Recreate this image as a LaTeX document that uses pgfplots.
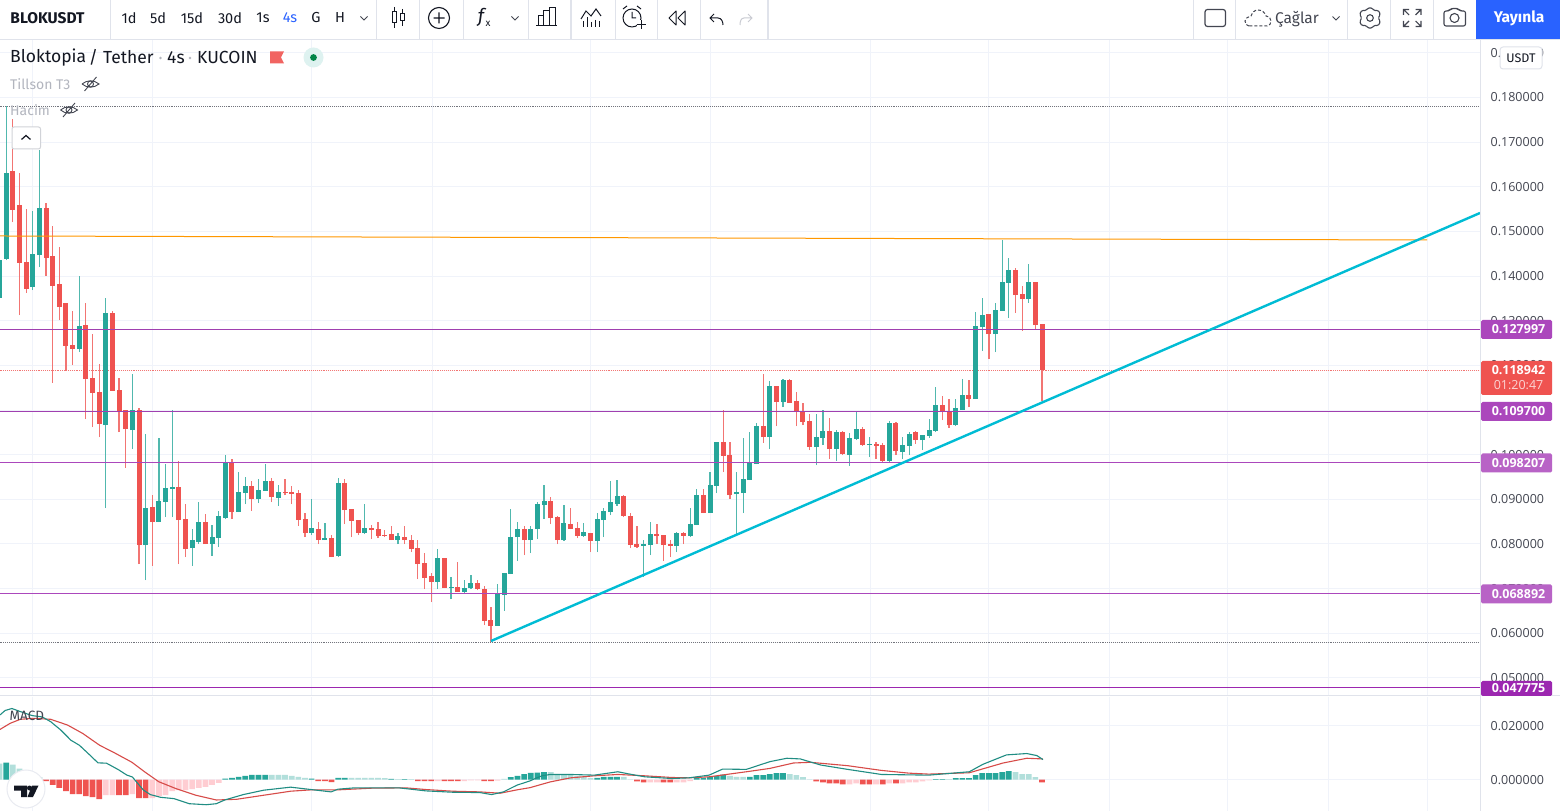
\documentclass[border=0pt]{standalone}
\usepackage{pgfplots}
\pgfplotsset{compat=1.18}
\usepackage{pgfplotstable}
\usepackage{fontspec}
\setmainfont{Fira Sans}
\newfontfamily\numf{Open Sans}
\definecolor{up}{HTML}{26A69A}
\definecolor{dn}{HTML}{EF5350}
\definecolor{upl}{HTML}{B2DFDB}
\definecolor{dnl}{HTML}{FFCDD2}
\definecolor{gridc}{HTML}{F0F3FA}
\definecolor{sep}{HTML}{E0E3EB}
\definecolor{ink}{HTML}{131722}
\definecolor{ui}{HTML}{434651}
\definecolor{gray1}{HTML}{B2B5BE}
\definecolor{pur}{HTML}{AB47BC}
\definecolor{purd}{HTML}{9C27B0}
\definecolor{purm}{HTML}{A040B0}
\definecolor{cyanl}{HTML}{00BCD4}
\definecolor{oran}{HTML}{FF9800}
\definecolor{blue1}{HTML}{2962FF}

\pgfplotstableread{
i o h l c
-1 0.13510 0.14361 0.13510 0.14361
0 0.14383 0.17811 0.14361 0.16310
4 0.13756 0.15459 0.13689 0.14495
5 0.14473 0.16825 0.14204 0.15526
11 0.12367 0.14003 0.12300 0.12883
15 0.10665 0.13510 0.08806 0.13174
19 0.10553 0.11807 0.10127 0.11001
21 0.07977 0.10463 0.07193 0.08806
23 0.08492 0.10374 0.08492 0.08963
24 0.08940 0.09791 0.08604 0.09254
25 0.09231 0.11001 0.08604 0.09276
28 0.07910 0.08335 0.07507 0.08089
29 0.08044 0.08940 0.07999 0.08492
31 0.07999 0.08425 0.07731 0.08156
32 0.08134 0.08739 0.07932 0.08627
33 0.08582 0.09993 0.08559 0.09814
35 0.08716 0.09612 0.08716 0.09164
36 0.09142 0.09500 0.08895 0.09299
38 0.09007 0.09456 0.08918 0.09209
39 0.09187 0.09791 0.09187 0.09411
41 0.09030 0.09321 0.08851 0.09164
46 0.08246 0.09007 0.08201 0.08358
48 0.08089 0.08470 0.08089 0.08134
50 0.07731 0.09478 0.07708 0.09366
54 0.08246 0.08895 0.08223 0.08358
59 0.08089 0.08246 0.07999 0.08179
65 0.07148 0.07887 0.06991 0.07686
67 0.07014 0.07260 0.06767 0.07036
69 0.06924 0.07193 0.06902 0.07014
70 0.07014 0.07305 0.06991 0.07126
74 0.06163 0.07103 0.06163 0.06902
75 0.06857 0.07350 0.06499 0.07350
76 0.07327 0.08783 0.07327 0.08156
77 0.08156 0.08492 0.07619 0.08335
79 0.08089 0.08403 0.07798 0.08335
80 0.08335 0.08940 0.08111 0.08895
81 0.08873 0.09321 0.08559 0.08963
84 0.08089 0.08873 0.08067 0.08470
87 0.08179 0.08470 0.08156 0.08268
89 0.08067 0.08694 0.07820 0.08559
90 0.08537 0.08806 0.08156 0.08739
91 0.08716 0.09411 0.08649 0.08940
92 0.08895 0.09433 0.08851 0.09075
96 0.07955 0.08089 0.07260 0.07999
97 0.07977 0.08492 0.07753 0.08223
101 0.07955 0.08268 0.07820 0.08246
103 0.08179 0.08806 0.08156 0.08447
104 0.08425 0.09231 0.08425 0.09097
106 0.08694 0.09612 0.08694 0.09321
107 0.09299 0.10284 0.09142 0.10284
110 0.09119 0.09612 0.08179 0.09164
111 0.09142 0.10374 0.08694 0.09456
112 0.09433 0.10508 0.09433 0.09814
113 0.09791 0.10710 0.09791 0.10642
115 0.10396 0.11651 0.10127 0.11539
117 0.11180 0.11695 0.11068 0.11673
122 0.10172 0.10911 0.09769 0.10396
123 0.10374 0.11001 0.10217 0.10531
125 0.10127 0.10553 0.09859 0.10508
127 0.09993 0.10486 0.09747 0.10374
128 0.10351 0.10956 0.10329 0.10575
130 0.10217 0.10396 0.09948 0.10240
133 0.09859 0.10755 0.09814 0.10710
135 0.10060 0.10396 0.09903 0.10217
136 0.10195 0.10508 0.09993 0.10463
138 0.10329 0.10441 0.10105 0.10441
139 0.10419 0.10799 0.10374 0.10553
140 0.10531 0.11516 0.10508 0.11113
143 0.10665 0.11247 0.10642 0.11046
144 0.11001 0.11695 0.11001 0.11337
146 0.11247 0.13196 0.11247 0.12883
147 0.12860 0.13510 0.12323 0.13129
149 0.12703 0.13398 0.12300 0.13241
150 0.13219 0.14809 0.13219 0.13868
151 0.13846 0.14406 0.13062 0.14137
154 0.13487 0.14271 0.13398 0.13868
}\upcandles

\pgfplotstableread{
i o h l c
1 0.16355 0.17519 0.15212 0.15481
2 0.15593 0.16310 0.13129 0.14294
3 0.14316 0.15503 0.13622 0.13711
6 0.15526 0.15638 0.14003 0.14406
7 0.14451 0.15123 0.11606 0.13779
8 0.13823 0.14652 0.13017 0.13308
9 0.13398 0.13398 0.11875 0.12435
10 0.12457 0.13219 0.12009 0.12367
12 0.12905 0.13398 0.10799 0.11695
13 0.11718 0.12703 0.10620 0.11382
14 0.11404 0.12031 0.10396 0.10687
16 0.13174 0.13219 0.11427 0.11427
17 0.11449 0.11718 0.10508 0.10956
18 0.11001 0.11001 0.09702 0.10575
20 0.11001 0.11046 0.07551 0.07977
22 0.08828 0.09097 0.07507 0.08492
26 0.09276 0.09859 0.07551 0.08537
27 0.08559 0.08895 0.07708 0.07887
30 0.08492 0.08671 0.07999 0.07999
34 0.09814 0.09903 0.08559 0.08716
37 0.09299 0.09411 0.08739 0.09007
40 0.09411 0.09478 0.08940 0.09052
42 0.09164 0.09456 0.09097 0.09142
43 0.09164 0.09299 0.08895 0.09119
44 0.09142 0.09209 0.08403 0.08537
45 0.08559 0.08694 0.08156 0.08246
47 0.08335 0.08492 0.07999 0.08089
49 0.08134 0.08201 0.07708 0.07708
51 0.09366 0.09456 0.08447 0.08761
52 0.08783 0.08783 0.08156 0.08515
53 0.08537 0.08537 0.08201 0.08246
55 0.08358 0.08425 0.08111 0.08313
56 0.08335 0.08492 0.08134 0.08179
57 0.08201 0.08313 0.08156 0.08179
58 0.08223 0.08403 0.08089 0.08089
60 0.08156 0.08403 0.07999 0.08089
61 0.08089 0.08201 0.07820 0.07887
62 0.07910 0.08089 0.07215 0.07551
63 0.07574 0.07798 0.06991 0.07238
64 0.07283 0.07350 0.06700 0.07148
66 0.07686 0.07686 0.07014 0.07014
68 0.07036 0.07596 0.06924 0.06924
71 0.07126 0.07193 0.06969 0.06991
72 0.06991 0.07059 0.06185 0.06275
73 0.06297 0.06588 0.05804 0.06163
78 0.08335 0.08403 0.07753 0.08089
82 0.08963 0.09052 0.08447 0.08582
83 0.08604 0.08627 0.07999 0.08089
85 0.08447 0.08806 0.08335 0.08335
86 0.08358 0.08492 0.08134 0.08179
88 0.08246 0.08246 0.07820 0.08067
93 0.09075 0.09097 0.08604 0.08627
94 0.08627 0.08694 0.07910 0.07977
95 0.07999 0.08403 0.07910 0.07932
98 0.08223 0.08447 0.07999 0.08179
99 0.08201 0.08201 0.07619 0.07977
100 0.07999 0.08089 0.07708 0.07955
102 0.08246 0.08268 0.07999 0.08179
105 0.09097 0.09231 0.08694 0.08694
108 0.10284 0.11001 0.09612 0.09971
109 0.09993 0.10284 0.09007 0.09097
114 0.10642 0.11807 0.10262 0.10396
116 0.11539 0.11539 0.10642 0.11180
118 0.11673 0.11695 0.11158 0.11158
119 0.11203 0.11404 0.10642 0.10956
120 0.10956 0.11158 0.10665 0.10732
121 0.10755 0.10911 0.10105 0.10172
124 0.10531 0.10822 0.09903 0.10127
126 0.10508 0.10531 0.09993 0.10015
129 0.10575 0.10620 0.10195 0.10217
131 0.10240 0.10284 0.09903 0.10195
132 0.10217 0.10262 0.09814 0.09859
134 0.10710 0.10732 0.09993 0.10083
137 0.10508 0.10531 0.10240 0.10329
141 0.11113 0.11315 0.10777 0.10956
142 0.10979 0.11247 0.10598 0.10665
145 0.11337 0.11673 0.11068 0.11247
148 0.13151 0.13151 0.12143 0.12703
152 0.14137 0.14182 0.13174 0.13577
153 0.13599 0.13779 0.12771 0.13487
155 0.13868 0.13868 0.12815 0.12905
156 0.12927 0.12927 0.11203 0.11894
}\dncandles

% MACD histogram, four shades
\pgfplotstableread{
i v
0 0.00630
33 0.00037
34 0.00063
35 0.00100
36 0.00137
37 0.00174
38 0.00174
39 0.00174
46 0.00037
50 0.00063
51 0.00063
58 0.00026
60 0.00019
76 0.00089
77 0.00137
78 0.00200
79 0.00252
80 0.00259
81 0.00274
89 0.00063
90 0.00100
91 0.00100
92 0.00100
104 0.00063
105 0.00063
106 0.00100
107 0.00126
108 0.00185
112 0.00100
113 0.00163
114 0.00163
115 0.00200
116 0.00237
117 0.00237
140 0.00019
141 0.00019
143 0.00052
144 0.00052
145 0.00052
146 0.00163
147 0.00237
148 0.00237
149 0.00237
150 0.00274
151 0.00311
}\hup
\pgfplotstableread{
i v
-1 0.00593
1 0.00556
2 0.00407
3 0.00250
4 0.00180
5 0.00089
40 0.00174
41 0.00174
42 0.00174
43 0.00137
44 0.00100
45 0.00063
52 0.00063
53 0.00063
54 0.00063
55 0.00063
56 0.00063
57 0.00055
59 0.00019
61 0.00019
75 0.00026
82 0.00274
83 0.00163
84 0.00163
85 0.00163
86 0.00137
87 0.00100
88 0.00052
93 0.00100
94 0.00011
109 0.00137
110 0.00100
111 0.00100
118 0.00200
119 0.00163
120 0.00089
121 0.00011
142 0.00019
152 0.00274
153 0.00200
154 0.00200
155 0.00089
}\hupl
\pgfplotstableread{
i v
6 -0.00052
7 -0.00200
8 -0.00311
9 -0.00426
10 -0.00537
11 -0.00537
12 -0.00615
13 -0.00652
14 -0.00726
17 -0.00574
18 -0.00574
20 -0.00689
21 -0.00689
47 -0.00052
48 -0.00052
49 -0.00089
62 -0.00052
63 -0.00052
64 -0.00052
66 -0.00052
67 -0.00052
68 -0.00052
72 -0.00052
73 -0.00052
95 -0.00063
96 -0.00100
99 -0.00100
100 -0.00100
122 -0.00063
123 -0.00100
124 -0.00137
125 -0.00137
126 -0.00174
129 -0.00174
130 -0.00174
132 -0.00174
134 -0.00137
156 -0.00100
}\hdn
\pgfplotstableread{
i v
15 -0.00574
16 -0.00574
19 -0.00537
22 -0.00689
23 -0.00615
24 -0.00574
25 -0.00426
26 -0.00389
27 -0.00389
28 -0.00352
29 -0.00311
30 -0.00274
31 -0.00200
32 -0.00126
65 -0.00052
69 -0.00052
70 -0.00030
71 -0.00030
74 -0.00040
97 -0.00100
98 -0.00100
101 -0.00100
102 -0.00100
103 -0.00052
127 -0.00174
128 -0.00137
131 -0.00174
133 -0.00137
135 -0.00137
136 -0.00100
137 -0.00100
138 -0.00063
139 -0.00030
}\hdnl

\newcommand{\fs}[1]{\fontsize{#1}{#1}\selectfont}
\newcommand{\ui}[4][ui]{\node[text=#1,anchor=center,inner sep=0pt] at (#2,811-#3) {#4};}

\begin{document}
\begin{tikzpicture}[x=1pt,y=1pt]
\fill[white] (0,0) rectangle (1560,811);
\clip (0,0) rectangle (1560,811);

% ---------- price pane ----------
\begin{axis}[at={(0pt,115pt)},anchor=south west,scale only axis,width=1480pt,height=656pt,
  xmin=-0.934,xmax=221.96,ymin=0.04595,ymax=0.19289,scaled ticks=false,
  axis line style={draw=none},major tick length=0pt,
  xtick={3.89,21.96,46.05,64.13,88.07,106,130.1,148,166.1,184,199.1,214},xticklabels={},
  ytick={0.05,0.06,0.07,0.08,0.09,0.10,0.11,0.12,0.13,0.14,0.15,0.16,0.17,0.18,0.19},
  yticklabels={0.050000,0.060000,0.070000,0.080000,0.090000,0.100000,0.110000,0.120000,0.130000,0.140000,0.150000,0.160000,0.170000,0.180000,0.190000},
  yticklabel pos=right,
  y tick label style={font=\numf\fs{12.5},text=ui,anchor=west,xshift=10.5pt,inner sep=0pt},
  grid=major,grid style={gridc,line width=1pt},clip=true]
\addplot[dn!80,densely dotted,line width=0.9pt,forget plot] coordinates {(-1,0.118942)(222,0.118942)};
\addplot[draw=none,mark=none,forget plot,error bars/.cd,y dir=plus,y explicit,error mark=none,error bar style={draw=up!80,line width=1.2pt}]
  table[x=i,y=l,y error plus expr=\thisrow{h}-\thisrow{l}] {\upcandles};
\addplot[draw=none,mark=none,forget plot,error bars/.cd,y dir=plus,y explicit,error mark=none,error bar style={draw=dn!80,line width=1.2pt}]
  table[x=i,y=l,y error plus expr=\thisrow{h}-\thisrow{l}] {\dncandles};
\addplot[draw=none,mark=none,forget plot,error bars/.cd,y dir=plus,y explicit,error mark=none,error bar style={draw=up,line width=5pt}]
  table[x=i,y=o,y error plus expr=\thisrow{c}-\thisrow{o}] {\upcandles};
\addplot[draw=none,mark=none,forget plot,error bars/.cd,y dir=plus,y explicit,error mark=none,error bar style={draw=dn,line width=5pt}]
  table[x=i,y=c,y error plus expr=\thisrow{o}-\thisrow{c}] {\dncandles};
% drawings
\addplot[purm,line width=1pt] coordinates {(-1,0.127997)(222,0.127997)};
\addplot[purm,line width=1pt] coordinates {(-1,0.109700)(222,0.109700)};
\addplot[pur,line width=1pt] coordinates {(-1,0.098207)(222,0.098207)};
\addplot[pur,line width=1pt] coordinates {(-1,0.068892)(222,0.068892)};
\addplot[purd,line width=1pt] coordinates {(-1,0.047775)(222,0.047775)};
\addplot[ui!75,densely dotted,line width=0.9pt] coordinates {(-1,0.17811)(221.8,0.17811)};
\addplot[ui!75,densely dotted,line width=0.9pt] coordinates {(-1,0.05804)(221.8,0.05804)};
\addplot[oran,line width=1pt] coordinates {(-0.934,0.14899)(214,0.14809)};
\addplot[cyanl,line width=2.4pt] coordinates {(73,0.05826)(221.96,0.15414)};
\end{axis}

% ---------- MACD pane ----------
\begin{axis}[at={(0pt,0pt)},anchor=south west,scale only axis,width=1480pt,height=114pt,
  xmin=-0.934,xmax=221.96,ymin=-0.01163,ymax=0.03059,scaled ticks=false,
  axis line style={draw=none},major tick length=0pt,
  xtick={3.89,21.96,46.05,64.13,88.07,106,130.1,148,166.1,184,199.1,214},xticklabels={},
  ytick={0,0.02},yticklabels={0.000000,0.020000},
  yticklabel pos=right,
  y tick label style={font=\numf\fs{12.5},text=ui,anchor=west,xshift=10.5pt,inner sep=0pt},
  grid=major,grid style={gridc,line width=1pt},clip=true]
\addplot[ybar,bar width=5.7pt,bar shift=0pt,fill=up,draw=none,forget plot] table[x=i,y=v] {\hup};
\addplot[ybar,bar width=5.7pt,bar shift=0pt,fill=upl,draw=none,forget plot] table[x=i,y=v] {\hupl};
\addplot[ybar,bar width=5.7pt,bar shift=0pt,fill=dn,draw=none,forget plot] table[x=i,y=v] {\hdn};
\addplot[ybar,bar width=5.7pt,bar shift=0pt,fill=dnl,draw=none,forget plot] table[x=i,y=v] {\hdnl};
\addplot[color=dn!90!black,line width=1.1pt,line join=round] coordinates {
(-0.93,0.01858)(0.59,0.02083)(2.12,0.02233)(4.16,0.02270)(6.70,0.02233)(9.24,0.02020)(11.53,0.01708)(14.08,0.01270)
(16.37,0.00983)(18.91,0.00645)(20.95,0.00270)(22.98,-0.00080)(25.53,-0.00330)(28.58,-0.00580)(31.64,-0.00755)(34.69,-0.00730)
(38.76,-0.00580)(42.83,-0.00430)(45.89,-0.00380)(49.96,-0.00380)(55.05,-0.00318)(60.14,-0.00305)(63.19,-0.00368)(67.26,-0.00430)
(71.33,-0.00455)(74.38,-0.00505)(76.93,-0.00380)(78.89,-0.00298)(81.94,-0.00085)(85.00,0.00065)(88.56,0.00140)(92.12,0.00190)
(96.19,0.00140)(100.26,0.00078)(102.81,0.00065)(105.86,0.00103)(111.46,0.00290)(115.02,0.00415)(118.58,0.00615)(121.13,0.00640)
(126.73,0.00515)(131.82,0.00340)(135.89,0.00240)(138.94,0.00203)(145.05,0.00253)(150.14,0.00615)(153.70,0.00790)(156.14,0.00765)};
\addplot[color=up!85!black,line width=1.1pt,line join=round] coordinates {
(-0.93,0.02395)(-0.17,0.02558)(0.85,0.02633)(2.12,0.02520)(3.90,0.02370)(5.43,0.02320)(6.70,0.02145)(8.23,0.01833)(9.75,0.01458)
(11.03,0.01270)(12.55,0.00920)(13.82,0.00620)(15.10,0.00608)(16.88,0.00370)(18.15,0.00170)(19.01,0.00095)(19.68,-0.00105)
(20.69,-0.00393)(21.71,-0.00555)(23.24,-0.00655)(25.27,-0.00705)(27.57,-0.00893)(30.11,-0.00930)(31.64,-0.00893)(32.91,-0.00755)
(35.71,-0.00555)(38.76,-0.00393)(42.83,-0.00280)(45.89,-0.00368)(48.94,-0.00455)(49.96,-0.00355)(52.50,-0.00305)(59.12,-0.00305)
(63.19,-0.00418)(67.26,-0.00468)(71.33,-0.00480)(73.11,-0.00555)(74.89,-0.00455)(76.93,-0.00205)(78.89,-0.00048)(79.91,0.00065)
(80.67,0.00140)(81.94,0.00190)(85.00,0.00190)(88.56,0.00165)(92.12,0.00290)(93.65,0.00215)(96.19,0.00103)(100.26,0.00040)
(102.81,0.00065)(105.86,0.00165)(107.90,0.00390)(111.46,0.00378)(115.02,0.00665)(117.57,0.00790)(119.60,0.00765)(122.66,0.00540)
(126.73,0.00378)(131.82,0.00190)(138.94,0.00165)(145.05,0.00290)(147.08,0.00565)(150.65,0.00915)(153.70,0.00965)(155.22,0.00890)(156.14,0.00740)};
\end{axis}

% ---------- frame ----------
\fill[white] (0,771.5) rectangle (1560,811);
\draw[sep,line width=1pt] (0,771.5) -- (1560,771.5);
\draw[sep,line width=1pt] (1480.5,0) -- (1480.5,771.5);
\draw[sep,line width=1pt] (0,115) -- (1560,115);
\foreach \x in {110.5,376.5,419.5,463.5,528.5,570,571.5,615.5,657.5,700.5,767,768.5,1193.5,1235.5,1347.5,1390.5,1433.5}
  \draw[sep,line width=1pt] (\x,771.5) -- (\x,811);
\fill[blue1] (1476,772) rectangle (1560,811);

% ---------- toolbar text ----------
\ui[ink]{47.5}{18}{\fs{15.5}\bfseries BLOKUSDT}
\foreach \t/\x in {1d/129,5d/158,15d/192,30d/230,1s/263,G/316,H/340}{\ui[ink]{\x}{18}{\fs{14.5}\t}}
\ui[blue1]{290}{18}{\fs{14.5}4s}
\ui{1297}{19}{\fs{15.5}Çağlar}
\ui[white]{1519}{18}{\fs{15.5}\bfseries Yayınla}
% chevrons
\foreach \x in {364,515,1336}{\draw[ui,line width=1pt] (\x-3.5,811-16.5) -- (\x,811-20) -- (\x+3.5,811-16.5);}
% candles icon
\draw[ink,line width=1pt] (392.5,811-12) rectangle (396.5,811-23) (394.5,811-7)--(394.5,811-12) (394.5,811-23)--(394.5,811-28)
  (400.5,811-14) rectangle (404.5,811-21) (402.5,811-9)--(402.5,811-14) (402.5,811-21)--(402.5,811-26);
% plus
\draw[ink,line width=1.1pt] (439,811-18) circle (10.5) (433.5,811-18)--(444.5,811-18) (439,811-12.5)--(439,811-23.5);
% fx
\ui[ink]{481}{17}{\fs{19}\itshape f}
\ui[ink]{488}{24}{\fs{10}x}
% templates bars
\draw[ink,line width=1pt] (538,811-26) rectangle (543.5,811-16) (543.5,811-26) rectangle (549,811-11) (549,811-26) rectangle (555,811-8);
\draw[ink,line width=1pt] (536,811-26)--(557,811-26);
% indicator
\draw[ink,line width=1pt] (581,811-19)--(586,811-11)--(591,811-16)--(596,811-9)--(601,811-16);
\foreach \x/\y in {583/21,587/17,591/22,595/20,599/21}{\draw[ink,line width=1pt] (\x,811-\y)--(\x,811-27);}
% alarm
\draw[ink,line width=1pt] (632,811-18) circle (9) (632,811-12)--(632,811-18)--(636,811-18) (623,811-9)--(627,811-6) (641,811-9)--(637,811-6);
\fill[white] (637,811-29) rectangle (646,811-20);
\draw[ink,line width=1pt] (641,811-29)--(641,811-20) (636.5,811-24.5)--(645.5,811-24.5);
% rewind
\draw[ink,line width=1pt,line join=round] (676,811-11)--(669,811-18)--(676,811-25)--cycle (685,811-11)--(678,811-18)--(685,811-25)--cycle;
% undo redo
\draw[ink,line width=1pt] (714,811-14)--(710,811-18)--(714,811-22) (710,811-18)--(718,811-18) to[out=0,in=90] (723,811-25);
\draw[gray1!70,line width=1pt] (748,811-14)--(752,811-18)--(748,811-22) (752,811-18)--(744,811-18) to[out=180,in=90] (740,811-25);
% right side icons
\draw[ui,line width=1.2pt,rounded corners=2.5pt] (1205,811-9.5) rectangle (1225.5,811-26.5);
\draw[ui,line width=1pt,dash pattern=on 3pt off 2pt] (1249,811-26) to[out=180,in=270] (1245,811-21) to[out=90,in=200] (1251,811-16) to[out=70,in=180] (1258,811-10) to[out=0,in=110] (1266,811-16) to[out=10,in=90] (1271,811-21) to[out=270,in=0] (1267,811-26) -- cycle;
% gear
\draw[ui,line width=1.1pt] (1370,811-18) circle (3.3);
\draw[ui,line width=1.1pt,rounded corners=1.5pt] (1367.5,811-8)--(1372.5,811-8)--(1374,811-11)--(1378,811-10)--(1380.5,811-14.5)--(1378,811-18)--(1380.5,811-21.5)--(1378,811-26)--(1374,811-25)--(1372.5,811-28)--(1367.5,811-28)--(1366,811-25)--(1362,811-26)--(1359.5,811-21.5)--(1362,811-18)--(1359.5,811-14.5)--(1362,811-10)--(1366,811-11)--cycle;
% expand
\draw[ui,line width=1.1pt] (1403.5,811-15)--(1403.5,811-9.5)--(1409,811-9.5) (1403.5,811-9.5)--(1409,811-15)
  (1421,811-15)--(1421,811-9.5)--(1415.5,811-9.5) (1421,811-9.5)--(1415.5,811-15)
  (1403.5,811-21)--(1403.5,811-26.5)--(1409,811-26.5) (1403.5,811-26.5)--(1409,811-21)
  (1421,811-21)--(1421,811-26.5)--(1415.5,811-26.5) (1421,811-26.5)--(1415.5,811-21);
% camera
\draw[ui,line width=1.1pt,rounded corners=2pt] (1444,811-26)--(1465.5,811-26)--(1465.5,811-11)--(1460,811-11)--(1458,811-8.5)--(1451,811-8.5)--(1449,811-11)--(1444,811-11)--cycle;
\draw[ui,line width=1.1pt] (1454.5,811-18) circle (4.5);

% ---------- legend over chart ----------
\node[anchor=west,text=ink,inner sep=0pt] at (10,811-57.5) {\fs{17.5}Bloktopia};
\node[anchor=center,text=ink,inner sep=0pt] at (93.5,811-57.5) {\fs{17.5}/};
\node[anchor=west,text=ink,inner sep=0pt] at (103,811-57.5) {\fs{17.5}Tether};
\fill[gray1] (160.5,811-58) circle (1.3);
\node[anchor=west,text=ink,inner sep=0pt] at (167,811-57.5) {\fs{17.5}4s};
\fill[gray1] (190,811-58) circle (1.3);
\node[anchor=west,text=ink,inner sep=0pt] at (197,811-57.5) {\fs{17.5}KUCOIN};
\fill[dn!90!white] (270,811-51.5)--(284,811-51.5)--(281,811-57.5)--(284,811-63.5)--(270,811-63.5)--cycle;
\fill[up!15] (313.5,811-57.5) circle (10);
\fill[teal!70!green!80!black] (313.5,811-57.5) circle (3.4);
\node[anchor=west,text=gray1,inner sep=0pt] at (10,811-84) {\fs{14}Tillson T3};
\node[anchor=west,text=gray1,inner sep=0pt] at (10,811-110.5) {\fs{14}Hacim};
\foreach \x/\y in {90.5/84,69/110}{
 \draw[ui,line width=0.9pt] (\x-8.5,811-\y) to[out=40,in=140] (\x+8.5,811-\y) to[out=220,in=320] (\x-8.5,811-\y);
 \draw[ui,line width=0.9pt] (\x,811-\y) circle (3) (\x-6,811-\y-7)--(\x+6,811-\y+7);}
\draw[gray1!60,fill=white,line width=1pt,rounded corners=2pt] (12,811-127) rectangle (40.5,811-149);
\draw[ink,line width=1.2pt] (21.5,811-139.5)--(26,811-135.5)--(30.5,811-139.5);
\node[anchor=west,text=ui,inner sep=0pt] at (9.5,811-715.5) {\fs{13.5}MACD};

% TradingView logo
\draw[sep!70,fill=white,line width=1pt] (26,811-789) circle (19);
\fill[ink] (14,811-785.5)--(27,811-785.5)--(27,811-797)--(21,811-797)--(21,811-790.6)--(14,811-790.6)--cycle;
\fill[ink] (32,811-785.5)--(38.5,811-785.5)--(33,811-797)--(27.5,811-797)--cycle;
\fill[ink] (29.5,811-788) circle (2.5);

% ---------- price tags ----------
\draw[sep,fill=white,line width=1pt,rounded corners=3pt] (1500,811-47) rectangle (1542,811-69);
\node[text=ink,inner sep=0pt] at (1521,811-58) {\fs{12.5}USDT};
\newcommand{\tag}[3]{\fill[#1,rounded corners=1.5pt] (1481,811-#2-9.5) rectangle (1552,811-#2+9.5);
  \node[text=white,inner sep=0pt] at (1518.5,811-#2) {\numf\fs{12.5}\bfseries #3};}
\tag{pur}{329.5}{0.127997}
\tag{pur}{411.5}{0.109700}
\tag{pur!85!white}{463}{0.098207}
\tag{pur!85!white}{594}{0.068892}
\fill[purd,rounded corners=1.5pt] (1481,811-696) rectangle (1552,811-681);
\node[text=white,inner sep=0pt] at (1518.5,811-688.5) {\numf\fs{12.5}\bfseries 0.047775};
\fill[dn,rounded corners=1.5pt] (1481,811-395) rectangle (1552,811-361);
\node[text=white,inner sep=0pt] at (1518.5,811-370.5) {\numf\fs{12.5}\bfseries 0.118942};
\node[text=white!75!dn,inner sep=0pt] at (1518.5,811-385.5) {\numf\fs{12.5}01:20:47};
\end{tikzpicture}
\end{document}
